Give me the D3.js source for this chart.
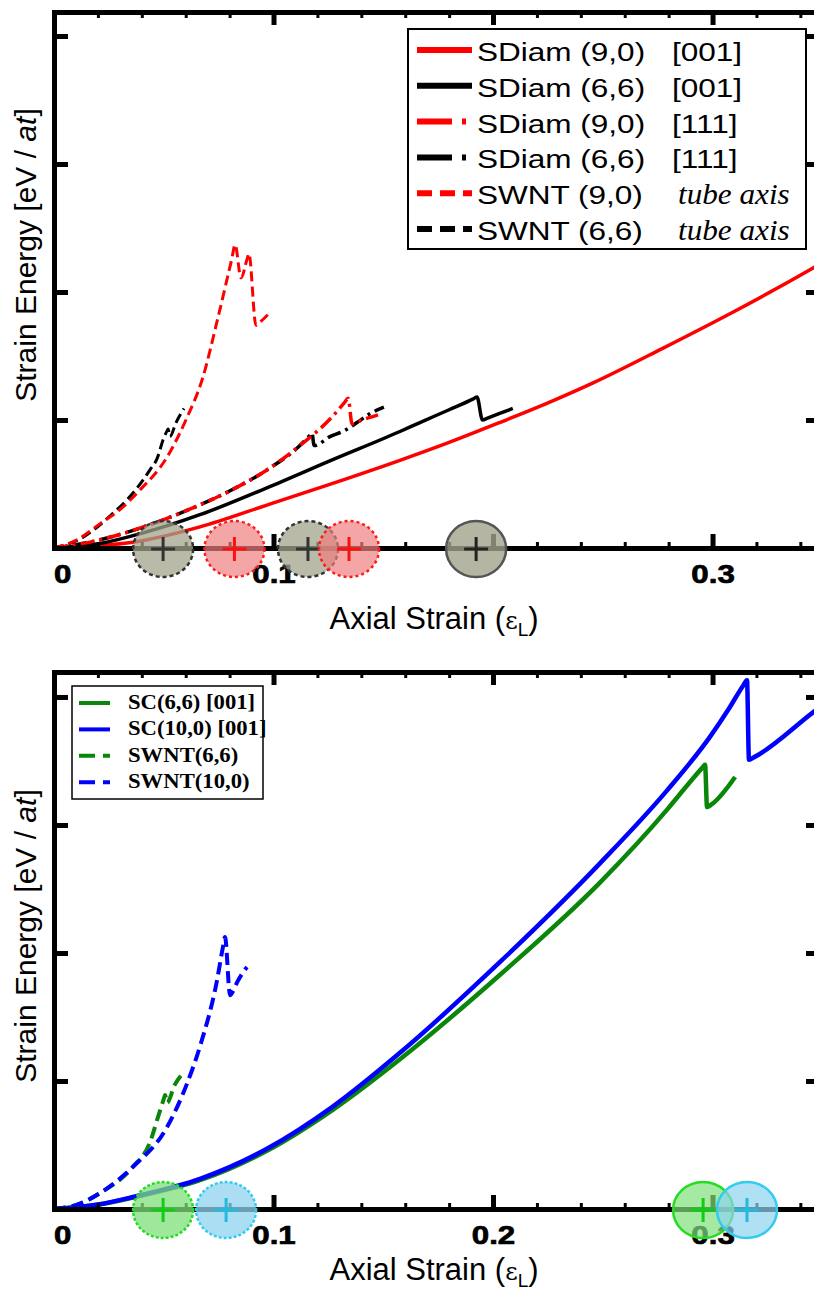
<!DOCTYPE html>
<html>
<head>
<meta charset="utf-8">
<script src="https://cdn.jsdelivr.net/npm/d3@7"></script>
<style>
  body { margin: 0; background: #fff; }
  svg { display: block; }
</style>
</head>
<body>
<svg id="fig" width="814" height="1290"></svg>
<script>
// ---------------- data ----------------
// strain axis ticks
const majorTicks = [0, 0.1, 0.2, 0.3];
const minorTicks = [0.02, 0.04, 0.06, 0.08, 0.12, 0.14, 0.16, 0.18, 0.22, 0.24, 0.26, 0.28, 0.32, 0.34];
const topTickLabels = ["0", "0.1", "", "0.3"];
const bottomTickLabels = ["0", "0.1", "0.2", "0.3"];
const energyTicks = [1, 2, 3, 4];

// upper panel: SDiam (9,0) [001]
const sd90_001_strain = [0, 0.02, 0.036, 0.0665, 0.097, 0.127, 0.1576, 0.18, 0.203, 0.2245, 0.2456, 0.2773, 0.309, 0.346, 0.36];
const sd90_001_energy = [0, 0.018, 0.045, 0.165, 0.335, 0.505, 0.685, 0.825, 0.98, 1.13, 1.29, 1.56, 1.84, 2.19, 2.33];
// SDiam (6,6) [001]
const sd66_001_strain = [0, 0.021, 0.039, 0.0665, 0.097, 0.127, 0.1576, 0.1667, 0.18, 0.191, 0.1927, 0.1952, 0.1975, 0.209];
const sd66_001_energy = [0, 0.035, 0.11, 0.26, 0.47, 0.69, 0.91, 0.98, 1.08, 1.165, 1.18, 1.0, 1.015, 1.09];
// SDiam (9,0) [111]
const sd90_111_strain = [0, 0.02, 0.04, 0.06, 0.08, 0.097, 0.112, 0.127, 0.1325, 0.134, 0.1358, 0.138, 0.1476];
const sd90_111_energy = [0, 0.06, 0.16, 0.29, 0.445, 0.61, 0.80, 1.03, 1.14, 1.17, 0.97, 0.985, 1.04];
// SDiam (6,6) [111]
const sd66_111_strain = [0, 0.02, 0.04, 0.06, 0.08, 0.097, 0.112, 0.1165, 0.1175, 0.1185, 0.1257, 0.1326, 0.138, 0.144, 0.1503];
const sd66_111_energy = [0, 0.06, 0.16, 0.29, 0.445, 0.61, 0.80, 0.88, 0.90, 0.80, 0.87, 0.92, 0.98, 1.05, 1.10];
// SWNT (9,0)
const sw90_strain = [0, 0.01, 0.021, 0.03, 0.039, 0.0515, 0.0606, 0.0674, 0.0747, 0.081, 0.0825, 0.0852, 0.088, 0.0888, 0.092, 0.0935, 0.0984];
const sw90_energy = [0, 0.06, 0.19, 0.30, 0.45, 0.71, 1.02, 1.31, 1.80, 2.26, 2.37, 2.11, 2.26, 2.30, 1.74, 1.76, 1.84];
// SWNT (6,6)
const sw66_strain = [0, 0.0118, 0.0255, 0.037, 0.0437, 0.047, 0.050, 0.0515, 0.052, 0.0528, 0.0556, 0.0592];
const sw66_energy = [0, 0.07, 0.25, 0.45, 0.61, 0.70, 0.86, 0.915, 0.93, 0.87, 0.98, 1.09];

// lower panel: SC(6,6) [001]
const sc66_strain = [0, 0.02, 0.036, 0.0665, 0.097, 0.127, 0.1576, 0.2032, 0.2487, 0.2793, 0.2885, 0.2955, 0.2966, 0.2975, 0.2995, 0.3103];
const sc66_energy = [0, 0.033, 0.09, 0.225, 0.455, 0.775, 1.17, 1.83, 2.55, 3.12, 3.31, 3.45, 3.47, 3.14, 3.16, 3.375];
// SC(10,0) [001]
const sc100_strain = [0, 0.02, 0.036, 0.0665, 0.097, 0.127, 0.1576, 0.2032, 0.2487, 0.2793, 0.2989, 0.3075, 0.314, 0.3157, 0.3166, 0.319, 0.3458, 0.3535];
const sc100_energy = [0, 0.035, 0.094, 0.235, 0.47, 0.80, 1.22, 1.93, 2.70, 3.27, 3.69, 3.91, 4.09, 4.13, 3.51, 3.53, 3.88, 3.98];
// SWNT(6,6)
const swb66_strain = [0, 0.01, 0.021, 0.036, 0.0437, 0.0474, 0.0502, 0.0506, 0.0515, 0.055, 0.0592];
const swb66_energy = [0, 0.03, 0.125, 0.33, 0.52, 0.72, 0.87, 0.89, 0.83, 0.97, 1.07];
// SWNT(10,0)
const swb100_strain = [0, 0.01, 0.021, 0.036, 0.0515, 0.0606, 0.0665, 0.0743, 0.077, 0.0779, 0.0802, 0.0815, 0.0834, 0.0879];
const swb100_energy = [0, 0.03, 0.125, 0.33, 0.64, 0.98, 1.27, 1.79, 2.05, 2.125, 1.67, 1.70, 1.77, 1.89];

// failure strains marked on the strain axis
const topFailStrain = [0.0497, 0.0822, 0.1157, 0.1344, 0.1923];
const topFailKind = ["grayDash", "red", "grayDash", "red", "graySolid"];
const bottomFailStrain = [0.0497, 0.0784, 0.2957, 0.3157];
const bottomFailKind = ["greenDot", "cyanDot", "greenSolid", "cyanSolid"];

// legend entries
const topLegendNames = ["SDiam (9,0)", "SDiam (6,6)", "SDiam (9,0)", "SDiam (6,6)", "SWNT (9,0)", "SWNT (6,6)"];
const topLegendDirs = ["[001]", "[001]", "[111]", "[111]", "tube axis", "tube axis"];
const bottomLegendNames = ["SC(6,6) [001]", "SC(10,0) [001]", "SWNT(6,6)", "SWNT(10,0)"];

// ---------------- drawing ----------------
const svg = d3.select("#fig");
const x = d3.scaleLinear().domain([0, 0.3485]).range([54, 819]);

const RED = "#ff0000", BLACK = "#000000", GREEN = "#0a870a", BLUE = "#0000ff";
const DASH = "10,5", DASHDOT = "14,5,3,5", DASH_B = "12,6";

const topSeries = [
  { s: sd90_001_strain, e: sd90_001_energy, color: RED, dash: null, w: 3.5 },
  { s: sd66_001_strain, e: sd66_001_energy, color: BLACK, dash: null, w: 3.5 },
  { s: sd66_111_strain, e: sd66_111_energy, color: BLACK, dash: DASHDOT, w: 3.5, off: 8 },
  { s: sd90_111_strain, e: sd90_111_energy, color: RED, dash: DASHDOT, w: 3.5, off: 0 },
  { s: sw66_strain, e: sw66_energy, color: BLACK, dash: DASH, w: 3 },
  { s: sw90_strain, e: sw90_energy, color: RED, dash: DASH, w: 3 }
];
const bottomSeries = [
  { s: sc66_strain, e: sc66_energy, color: GREEN, dash: null, w: 4.5 },
  { s: sc100_strain, e: sc100_energy, color: BLUE, dash: null, w: 4.5 },
  { s: swb66_strain, e: swb66_energy, color: GREEN, dash: DASH_B, w: 4 },
  { s: swb100_strain, e: swb100_energy, color: BLUE, dash: DASH_B, w: 4 }
];

const circleStyle = {
  grayDash:   { fill: "#a3a38c", op: 0.75, stroke: "#333", sdash: "4,3", cross: "#333" },
  graySolid:  { fill: "#a3a38c", op: 0.8,  stroke: "#555", sdash: null,  cross: "#222" },
  red:        { fill: "#f07f7f", op: 0.7,  stroke: "#ff1a1a", sdash: "3,3", cross: "#ff1010" },
  greenDot:   { fill: "#7fe07a", op: 0.75, stroke: "#22dd22", sdash: "3,2", cross: "#11cc11" },
  greenSolid: { fill: "#7fe07a", op: 0.7,  stroke: "#22dd22", sdash: null,  cross: "#11cc11" },
  cyanDot:    { fill: "#8fd3ef", op: 0.75, stroke: "#33ccee", sdash: "3,2", cross: "#22bbdd" },
  cyanSolid:  { fill: "#8fd3ef", op: 0.7,  stroke: "#33ccee", sdash: null,  cross: "#22bbdd" }
};

const panels = [
  { top: 12, bottom: 548, emax: 4.1875, tickLabels: topTickLabels, series: topSeries,
    failS: topFailStrain, failK: topFailKind, xTitleY: 629, yTitleC: 255, id: "pA" },
  { top: 672, bottom: 1209, emax: 4.195, tickLabels: bottomTickLabels, series: bottomSeries,
    failS: bottomFailStrain, failK: bottomFailKind, xTitleY: 1280, yTitleC: 936, id: "pB" }
];

panels.forEach(p => {
  const y = d3.scaleLinear().domain([0, p.emax]).range([p.bottom, p.top]);
  const g = svg.append("g");

  g.append("clipPath").attr("id", p.id + "clip")
    .append("rect").attr("x", 54).attr("y", p.top).attr("width", 765).attr("height", p.bottom - p.top);

  // curves
  const line = d3.line().x(d => x(d[0])).y(d => y(d[1])).curve(d3.curveMonotoneX);
  const curves = g.append("g").attr("clip-path", `url(#${p.id}clip)`);
  p.series.forEach(sr => {
    const pts = sr.s.map((v, i) => [v, sr.e[i]]);
    curves.append("path").attr("d", line(pts))
      .attr("fill", "none").attr("stroke", sr.color).attr("stroke-width", sr.w)
      .attr("stroke-linejoin", "miter").attr("stroke-miterlimit", 10)
      .attr("stroke-dasharray", sr.dash)
      .attr("stroke-dashoffset", sr.off || 0);
  });

  // axes frame
  const styleAxis = (sel, w) => {
    sel.select(".domain").attr("stroke", "#000").attr("stroke-width", 5).attr("stroke-linecap", "square");
    sel.selectAll(".tick line").attr("stroke", "#000").attr("stroke-width", w);
  };
  // bottom: minor + major, ticks pointing inward
  const bMinor = g.append("g").attr("transform", `translate(0,${p.bottom})`)
    .call(d3.axisBottom(x).tickValues(minorTicks).tickSize(-6).tickSizeOuter(0).tickFormat(""));
  styleAxis(bMinor, 3);
  const bMajor = g.append("g").attr("transform", `translate(0,${p.bottom})`)
    .call(d3.axisBottom(x).tickValues(majorTicks).tickSize(-14).tickSizeOuter(0)
      .tickFormat((d, i) => p.tickLabels[i]));
  styleAxis(bMajor, 5);
  bMajor.selectAll(".tick text")
    .attr("y", 35).attr("dy", null)
    .attr("x", (d, i) => i === 0 ? 6.5 : 0)
    .attr("transform", "scale(1.25,1)")
    .attr("font-family", "'Liberation Sans', Arial, sans-serif")
    .attr("font-weight", "bold").attr("font-size", 25)
    .attr("fill", "#000").attr("stroke", "#000").attr("stroke-width", 0.7);

  // top: ticks pointing inward
  const tMinor = g.append("g").attr("transform", `translate(0,${p.top})`)
    .call(d3.axisTop(x).tickValues(minorTicks).tickSize(-6).tickSizeOuter(0).tickFormat(""));
  styleAxis(tMinor, 3);
  const tMajor = g.append("g").attr("transform", `translate(0,${p.top})`)
    .call(d3.axisTop(x).tickValues(majorTicks).tickSize(-13).tickSizeOuter(0).tickFormat(""));
  styleAxis(tMajor, 5);

  // left and right energy axes
  const lAx = g.append("g").attr("transform", `translate(54,0)`)
    .call(d3.axisLeft(y).tickValues(energyTicks).tickSize(-14).tickSizeOuter(0).tickFormat(""));
  styleAxis(lAx, 5);
  const rAx = g.append("g").attr("transform", `translate(819,0)`)
    .call(d3.axisRight(y).tickValues(energyTicks).tickSize(-13).tickSizeOuter(0).tickFormat(""));
  styleAxis(rAx, 5);

  // axis titles
  const xt = g.append("text").attr("x", 434).attr("y", p.xTitleY).attr("text-anchor", "middle")
    .attr("font-family", "'Liberation Sans', Arial, sans-serif").attr("font-size", 31).attr("fill", "#000");
  xt.append("tspan").text("Axial Strain (");
  xt.append("tspan").attr("font-family", "'DejaVu Serif', serif").attr("font-size", 24).text("ε");
  xt.append("tspan").attr("font-size", 19).attr("dy", 7).text("L");
  xt.append("tspan").attr("dy", -7).text(")");

  const yt = g.append("text").attr("transform", `translate(36,${p.yTitleC}) rotate(-90)`)
    .attr("text-anchor", "middle")
    .attr("font-family", "'Liberation Sans', Arial, sans-serif").attr("font-size", 30).attr("fill", "#000");
  yt.append("tspan").text("Strain Energy [eV / ");
  yt.append("tspan").attr("font-style", "italic").text("at");
  yt.append("tspan").text("]");

  // failure-strain markers on the strain axis
  const mk = g.append("g");
  p.failS.forEach((v, i) => {
    const st = circleStyle[p.failK[i]];
    const cx = x(v), cy = p.bottom + 1;
    mk.append("ellipse").attr("cx", cx).attr("cy", cy).attr("rx", 30).attr("ry", 28)
      .attr("fill", st.fill).attr("fill-opacity", st.op)
      .attr("stroke", st.stroke).attr("stroke-width", 2.5)
      .attr("stroke-dasharray", st.sdash);
    mk.append("line").attr("x1", cx).attr("x2", cx).attr("y1", cy - 12).attr("y2", cy + 12)
      .attr("stroke", st.cross).attr("stroke-width", 3);
    mk.append("line").attr("x1", cx - 12).attr("x2", cx + 12).attr("y1", cy).attr("y2", cy)
      .attr("stroke", st.cross).attr("stroke-width", 3);
  });
});

// ---------------- legends ----------------
// upper legend
{
  const lg = svg.append("g");
  lg.append("rect").attr("x", 408).attr("y", 29).attr("width", 398).attr("height", 220)
    .attr("fill", "#fff").attr("stroke", "#000").attr("stroke-width", 2);
  const lColors = [RED, BLACK, RED, BLACK, RED, BLACK];
  const lDash = [null, null, "35,10,4,30", "35,10,4,30", "15,8", "15,8"];
  topLegendNames.forEach((name, i) => {
    const base = 61 + i * 35.8;
    lg.append("line").attr("x1", 417).attr("x2", 472).attr("y1", base - 11).attr("y2", base - 11)
      .attr("stroke", lColors[i]).attr("stroke-width", 6).attr("stroke-dasharray", lDash[i]);
    lg.append("text").attr("transform", `translate(477,${base}) scale(1.19,1)`)
      .attr("font-family", "'Liberation Sans', Arial, sans-serif").attr("font-size", 26.5)
      .attr("fill", "#000").text(name);
    const dir = topLegendDirs[i];
    if (dir.startsWith("[")) {
      lg.append("text").attr("transform", `translate(672,${base}) scale(1.19,1)`)
        .attr("font-family", "'Liberation Sans', Arial, sans-serif").attr("font-size", 26.5)
        .attr("fill", "#000").text(dir);
    } else {
      lg.append("text").attr("transform", `translate(678,${base}) scale(1.04,1)`)
        .attr("font-family", "'Liberation Serif', 'Times New Roman', serif").attr("font-style", "italic")
        .attr("font-size", 30).attr("fill", "#000").text(dir);
    }
  });
}
// lower legend
{
  const lg = svg.append("g");
  lg.append("rect").attr("x", 72).attr("y", 686).attr("width", 191).attr("height", 113)
    .attr("fill", "#fff").attr("stroke", "#000").attr("stroke-width", 1.5);
  const lColors = [GREEN, BLUE, GREEN, BLUE];
  const lDash = [null, null, "16,8", "16,8"];
  bottomLegendNames.forEach((name, i) => {
    const base = 709 + i * 26.4;
    lg.append("line").attr("x1", 79).attr("x2", 110).attr("y1", base - 6).attr("y2", base - 6)
      .attr("stroke", lColors[i]).attr("stroke-width", 4).attr("stroke-dasharray", lDash[i]);
    lg.append("text").attr("transform", `translate(128,${base}) scale(1.08,1)`)
      .attr("font-family", "'Liberation Serif', 'Times New Roman', serif").attr("font-weight", "bold")
      .attr("font-size", 21).attr("fill", "#000").text(name);
  });
}
</script>
</body>
</html>
